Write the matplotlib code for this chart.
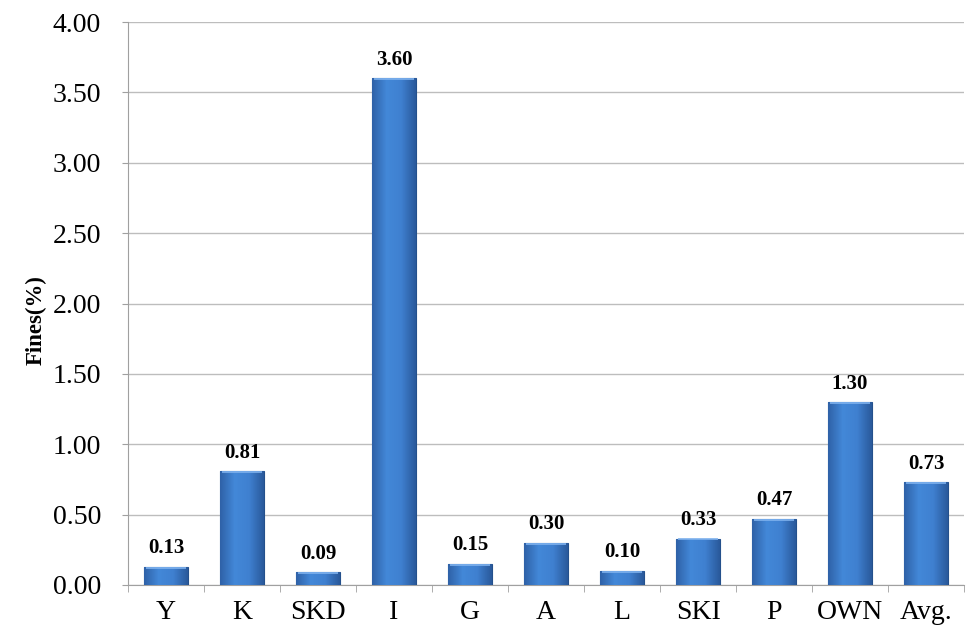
import matplotlib
matplotlib.use("Agg")
import matplotlib.pyplot as plt
import numpy as np
from matplotlib.colors import LinearSegmentedColormap

categories = ["Y", "K", "SKD", "I", "G", "A", "L", "SKI", "P", "OWN", "Avg."]
values = [0.13, 0.81, 0.09, 3.60, 0.15, 0.30, 0.10, 0.33, 0.47, 1.30, 0.73]
value_labels = ["0.13", "0.81", "0.09", "3.60", "0.15", "0.30", "0.10", "0.33", "0.47", "1.30", "0.73"]
yticks = [0.0, 0.5, 1.0, 1.5, 2.0, 2.5, 3.0, 3.5, 4.0]
ytick_labels = ["0.00", "0.50", "1.00", "1.50", "2.00", "2.50", "3.00", "3.50", "4.00"]

plt.rcParams['font.family'] = ['Liberation Serif', 'DejaVu Serif']

fig = plt.figure(figsize=(9.8, 6.42), dpi=100)
ax = fig.add_axes([128/980, 1 - 585/642, (964-128)/980, (585-22)/642])

x = np.arange(len(categories))
width = 0.57
bars = ax.bar(x, values, width=width, color="#3B77C6", edgecolor="#24508C", linewidth=0.8, zorder=3)

cmap = LinearSegmentedColormap.from_list("bar", ["#2F62A8", "#4388D8", "#3F80D0", "#2A5A9C"])
grad = np.linspace(0, 1, 64).reshape(1, -1)
for b in bars:
    x0, w, h = b.get_x(), b.get_width(), b.get_height()
    im = ax.imshow(grad, extent=[x0, x0 + w, 0, h], aspect="auto", cmap=cmap, zorder=3.5)
    im.set_clip_path(b)
    ax.plot([x0 + w*0.03, x0 + w*0.97], [h - 0.006, h - 0.006], color="#7FB2EE", lw=1.2, zorder=4,
            solid_capstyle="butt")

for xi, v, lab in zip(x, values, value_labels):
    ax.text(xi, v + 0.06, lab, ha="center", va="bottom", fontsize=15, fontweight="bold", zorder=5)

ax.set_xlim(-0.5, len(categories) - 0.5)
ax.set_ylim(0, 4.0)
ax.set_yticks(yticks)
ax.set_yticklabels(ytick_labels, fontsize=20)
ax.set_xticks(x)
ax.set_xticklabels(categories, fontsize=20)
ax.tick_params(axis="x", length=0, pad=11)
ax.set_xticks(np.arange(-0.5, len(categories)), minor=True)
ax.tick_params(axis="x", which="minor", length=5, color="#A0A0A0")
ax.tick_params(axis="y", length=4.5, color="#A0A0A0", pad=15)
ax.yaxis.grid(True, color="#BDBDBD", linewidth=1.0, zorder=0)
ax.set_axisbelow(True)
for s in ["top", "right"]:
    ax.spines[s].set_visible(False)
for s in ["left", "bottom"]:
    ax.spines[s].set_color("#A0A0A0")
fig.text(36/980, 1 - 320/642, "Fines(%)", rotation=90, ha="center", va="center",
         fontsize=16.5, fontweight="bold")

fig.savefig("out.png", dpi=100)
